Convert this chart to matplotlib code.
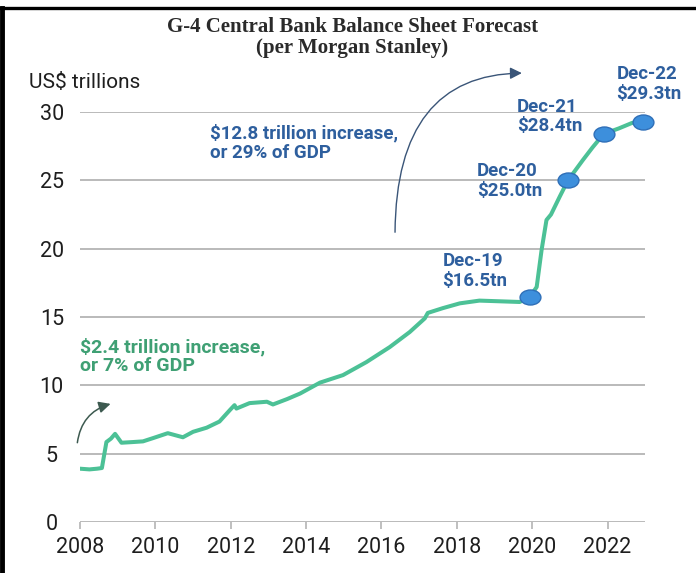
import matplotlib.pyplot as plt
from matplotlib.lines import Line2D
from matplotlib.patches import FancyArrowPatch
from matplotlib.path import Path
from matplotlib.transforms import Affine2D

# balance sheet, US$ trillions
years = [2008.0, 2008.25, 2008.45, 2008.58, 2008.7, 2008.82, 2008.93, 2009.1, 2009.4,
         2009.67, 2009.95, 2010.33, 2010.73, 2011.0, 2011.36, 2011.7, 2011.98, 2012.1,
         2012.15, 2012.5, 2012.96, 2013.12, 2013.5, 2013.84, 2014.37, 2014.98, 2015.6,
         2016.22, 2016.75, 2017.15, 2017.23, 2017.63, 2018.08, 2018.6, 2019.14, 2019.67,
         2019.95, 2020.12, 2020.25, 2020.38, 2020.5, 2020.73, 2020.95, 2021.35, 2021.6,
         2021.9, 2022.3, 2022.65, 2022.95]
values = [3.9, 3.85, 3.9, 3.95, 5.85, 6.1, 6.45, 5.8, 5.85,
          5.9, 6.15, 6.5, 6.2, 6.6, 6.9, 7.35, 8.2, 8.55,
          8.3, 8.7, 8.8, 8.6, 9.0, 9.4, 10.2, 10.75, 11.7,
          12.8, 13.9, 14.9, 15.3, 15.65, 16.0, 16.2, 16.15, 16.1,
          16.5, 17.2, 19.9, 22.1, 22.5, 23.8, 25.0, 26.5, 27.4,
          28.4, 28.8, 29.2, 29.3]

dot_years = [2019.95, 2020.95, 2021.9, 2022.95]
dot_values = [16.5, 25.0, 28.4, 29.3]
dot_labels = ["Dec-19\n$16.5tn", "Dec-20\n$25.0tn", "Dec-21\n$28.4tn", "Dec-22\n$29.3tn"]
label_pos = [(2017.62, 17.0), (2018.53, 23.55), (2019.59, 28.3), (2022.24, 30.65)]

xticks = [2008, 2010, 2012, 2014, 2016, 2018, 2020, 2022]
yticks = [0, 5, 10, 15, 20, 25, 30]

line_col = "#4cc196"
blue = "#2e5f9e"
green_txt = "#3fa074"

fig = plt.figure(figsize=(6.96, 5.73), dpi=100)
ax = fig.add_axes([0.115, 0.089, 0.812, 0.7155])

for y in yticks:
    ax.axhline(y, color="#b4b4b4", lw=1.3, zorder=1)

ax.plot(years, values, color=line_col, lw=2.9, zorder=3, solid_joinstyle="round")

ell = Path.unit_circle().transformed(Affine2D().scale(1, 0.72))
ax.plot(dot_years, dot_values, ls="none", marker=ell, ms=15, mfc="#3d8fdc",
        mec="#2f6fb8", mew=1, zorder=4, clip_on=False)

for lab, (x, y) in zip(dot_labels, label_pos):
    ax.text(x, y, lab, color=blue, fontsize=13.5, fontweight="bold", family="Roboto",
            ha="left", va="bottom", linespacing=1.12)

ax.text(2011.45, 29.1, "$12.8 trillion increase,\nor 29% of GDP", color=blue,
        fontsize=13.5, fontweight="bold", family="Roboto", ha="left", va="top", linespacing=1.1)
ax.text(2008.0, 13.5, "$2.4 trillion increase,\nor 7% of GDP", color=green_txt,
        fontsize=14, fontweight="bold", family="Roboto", ha="left", va="top", linespacing=1.1)

ax.add_patch(FancyArrowPatch((2016.36, 21.0), (2019.8, 32.85), clip_on=False,
                             connectionstyle="angle3,angleA=90,angleB=0",
                             arrowstyle="-|>,head_length=7,head_width=3.5",
                             color="#3a5578", lw=1.0))
ax.add_patch(FancyArrowPatch((2007.92, 5.6), (2008.88, 8.7), clip_on=False,
                             connectionstyle="arc3,rad=-0.35",
                             arrowstyle="-|>,head_length=7,head_width=3.5",
                             color="#3d5a50", lw=1.1))

ax.set_xlim(2008, 2023)
ax.set_ylim(0, 30)
ax.set_xticks(xticks)
ax.set_yticks(yticks)
for s in ax.spines.values():
    s.set_visible(False)
ax.tick_params(axis="x", direction="out", length=5, width=1.2, color="#b4b4b4",
               labelsize=15.5, labelcolor="#1e1e1e", pad=6)
ax.tick_params(axis="y", length=0, labelsize=15.5, labelcolor="#1e1e1e", pad=0)
for t in ax.get_xticklabels() + ax.get_yticklabels():
    t.set_family("Roboto")
for t in ax.get_yticklabels():
    t.set_horizontalalignment("center")
    t.set_x(-0.05)

fig.text(0.042, 0.84, "US$ trillions", fontsize=15, family="Roboto", color="#1e1e1e",
         ha="left", va="bottom")
fig.text(0.506, 0.934, "G-4 Central Bank Balance Sheet Forecast\n(per Morgan Stanley)",
         fontsize=15, family="Liberation Serif", fontweight="bold", color="#2a2a2a",
         ha="center", va="center", linespacing=1.08)

# frame of the screenshot
fig.add_artist(Line2D([0, 1], [0.986, 0.986], color="black", lw=2.4))
fig.add_artist(Line2D([0.003, 0.003], [0, 0.986], color="black", lw=3.5))

fig.savefig("out.png", dpi=100)
